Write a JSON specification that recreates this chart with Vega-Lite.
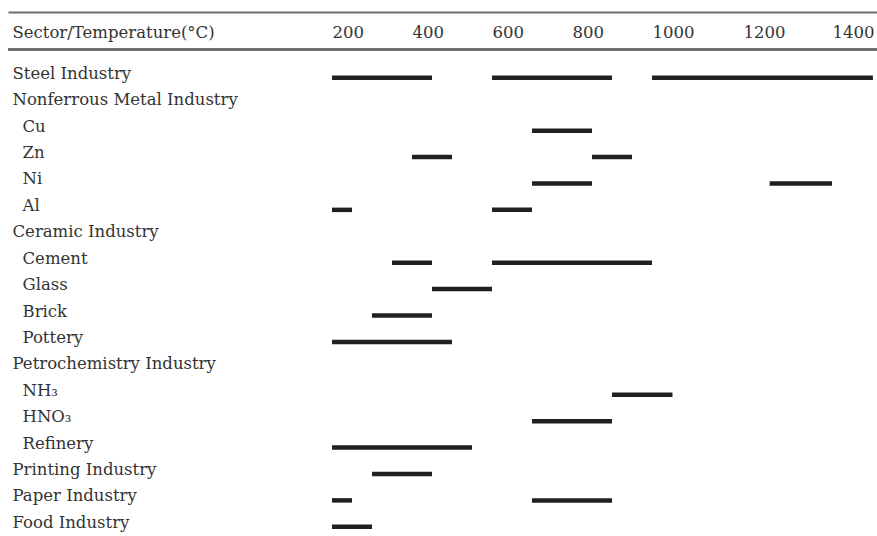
{
  "$schema": "https://vega.github.io/schema/vega-lite/v6.json",
  "autosize": {"type": "none"},
  "padding": {"left": 8, "top": 12, "right": 0, "bottom": 0},
  "width": 869,
  "height": 524,
  "background": "white",
  "config": {
    "view": {"stroke": null},
    "font": "DejaVu Serif"
  },
  "data": {
    "values": [
      {"sector": "Steel Industry", "start": 200, "end": 450},
      {"sector": "Steel Industry", "start": 600, "end": 900},
      {"sector": "Steel Industry", "start": 1000, "end": 1500},
      {"sector": "Cu", "start": 700, "end": 850},
      {"sector": "Zn", "start": 400, "end": 500},
      {"sector": "Zn", "start": 850, "end": 950},
      {"sector": "Ni", "start": 700, "end": 850},
      {"sector": "Ni", "start": 1260, "end": 1400},
      {"sector": "Al", "start": 200, "end": 250},
      {"sector": "Al", "start": 600, "end": 700},
      {"sector": "Cement", "start": 350, "end": 450},
      {"sector": "Cement", "start": 600, "end": 1000},
      {"sector": "Glass", "start": 450, "end": 600},
      {"sector": "Brick", "start": 300, "end": 450},
      {"sector": "Pottery", "start": 200, "end": 500},
      {"sector": "NH₃", "start": 900, "end": 1045},
      {"sector": "HNO₃", "start": 700, "end": 900},
      {"sector": "Refinery", "start": 200, "end": 550},
      {"sector": "Printing Industry", "start": 300, "end": 450},
      {"sector": "Paper Industry", "start": 200, "end": 250},
      {"sector": "Paper Industry", "start": 700, "end": 900},
      {"sector": "Food Industry", "start": 200, "end": 300}
    ]
  },
  "layer": [
    {
      "mark": {"type": "rule", "strokeWidth": 4.5, "color": "#231f20", "yOffset": 4, "strokeCap": "butt"},
      "encoding": {
        "x": {
          "field": "start", "type": "quantitative",
          "scale": {"domain": [0, 200, 1000, 1200, 1400, 1510], "range": [0, 324, 644, 735, 824, 869], "nice": false, "zero": false},
          "axis": {
            "orient": "top", "values": [200, 400, 600, 800, 1000, 1200, 1400], "format": "d",
            "ticks": false, "grid": false, "domain": true, "domainColor": "#6f6f6f", "domainWidth": 2,
            "labelAlign": "left", "labelBaseline": "alphabetic", "labelPadding": -25, "labelFlush": false, "labelOverlap": false,
            "labelFont": "DejaVu Serif", "labelFontSize": 16.5, "labelColor": "#333333",
            "title": "Sector/Temperature(°C)", "titleX": 4, "titleY": 25, "titleAlign": "left", "titleAnchor": null,
            "titleBaseline": "alphabetic", "titleAngle": 0, "titleFont": "DejaVu Serif", "titleFontSize": 16.5,
            "titleFontWeight": "normal", "titleColor": "#333333"
          }
        },
        "x2": {"field": "end"},
        "y": {
          "field": "sector", "type": "nominal",
          "scale": {
            "domain": ["Steel Industry", "Nonferrous Metal Industry", "Cu", "Zn", "Ni", "Al", "Ceramic Industry", "Cement", "Glass", "Brick", "Pottery", "Petrochemistry Industry", "NH₃", "HNO₃", "Refinery", "Printing Industry", "Paper Industry", "Food Industry"],
            "paddingInner": 0, "paddingOuter": 0.92, "align": 1
          },
          "axis": {
            "title": null, "domain": false, "ticks": false, "grid": false,
            "labelAlign": "left", "labelBaseline": "middle", "labelLimit": 500,
            "labelPadding": {"condition": {"test": "indexof(['Cu','Zn','Ni','Al','Cement','Glass','Brick','Pottery','NH₃','HNO₃','Refinery'], datum.value) >= 0", "value": -14}, "value": -4},
            "labelFont": "DejaVu Serif", "labelFontSize": 16.5, "labelColor": "#333333"
          }
        }
      }
    },
    {
      "mark": {"type": "rule", "strokeWidth": 2, "color": "#6f6f6f", "yOffset": -24},
      "encoding": {
        "x": {"datum": 0, "type": "quantitative"},
        "x2": {"datum": 1510},
        "y": {"datum": "Steel Industry", "type": "nominal"}
      }
    }
  ]
}
